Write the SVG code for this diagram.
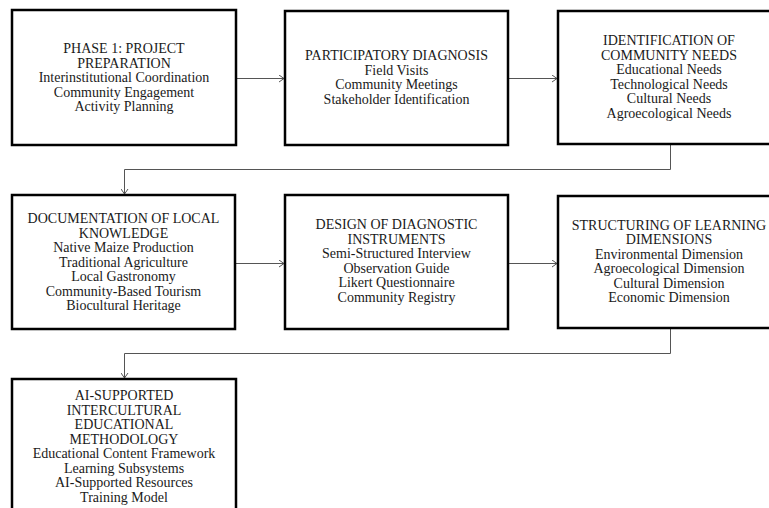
<svg xmlns="http://www.w3.org/2000/svg" width="769" height="508" viewBox="0 0 769 508">
<defs>
<style>
.box{fill:#fff;stroke:#000;stroke-width:2.5}
.t{font-family:"Liberation Serif","Times New Roman",serif;font-size:14px;fill:#1a1a1a;text-anchor:middle}
.c{fill:none;stroke:#555;stroke-width:1}
</style>
<marker id="ah" markerWidth="8" markerHeight="8" refX="6" refY="4" orient="auto" markerUnits="userSpaceOnUse">
<path d="M1,0.5 L6,4 L1,7.5" fill="none" stroke="#555" stroke-width="1"/>
</marker>
</defs>
<rect width="769" height="508" fill="#fff"/>
<g id="connectors">
<path class="c" d="M236,78.5 H284" marker-end="url(#ah)"/>
<path class="c" d="M508,78.5 H557" marker-end="url(#ah)"/>
<path class="c" d="M670.5,145 V169.5 H124.5 V194" marker-end="url(#ah)"/>
<path class="c" d="M235,263.5 H284" marker-end="url(#ah)"/>
<path class="c" d="M508,263.5 H557" marker-end="url(#ah)"/>
<path class="c" d="M670.5,329 V353.5 H124.5 V378" marker-end="url(#ah)"/>
</g>
<g id="node1">
<rect class="box" x="12" y="10" width="224" height="135"/>
<text class="t" x="124" y="53">PHASE 1: PROJECT</text>
<text class="t" x="124" y="67.5">PREPARATION</text>
<text class="t" x="124" y="82">Interinstitutional Coordination</text>
<text class="t" x="124" y="96.5">Community Engagement</text>
<text class="t" x="124" y="111">Activity Planning</text>
</g>
<g id="node2">
<rect class="box" x="285" y="11" width="223" height="134"/>
<text class="t" x="396.5" y="60">PARTICIPATORY DIAGNOSIS</text>
<text class="t" x="396.5" y="74.5">Field Visits</text>
<text class="t" x="396.5" y="89">Community Meetings</text>
<text class="t" x="396.5" y="103.5">Stakeholder Identification</text>
</g>
<g id="node3">
<rect class="box" x="558" y="11" width="222" height="133"/>
<text class="t" x="669" y="45">IDENTIFICATION OF</text>
<text class="t" x="669" y="59.5">COMMUNITY NEEDS</text>
<text class="t" x="669" y="74">Educational Needs</text>
<text class="t" x="669" y="88.5">Technological Needs</text>
<text class="t" x="669" y="103">Cultural Needs</text>
<text class="t" x="669" y="117.5">Agroecological Needs</text>
</g>
<g id="node4">
<rect class="box" x="12" y="195" width="223" height="134"/>
<text class="t" x="123.5" y="223">DOCUMENTATION OF LOCAL</text>
<text class="t" x="123.5" y="237.5">KNOWLEDGE</text>
<text class="t" x="123.5" y="252">Native Maize Production</text>
<text class="t" x="123.5" y="266.5">Traditional Agriculture</text>
<text class="t" x="123.5" y="281">Local Gastronomy</text>
<text class="t" x="123.5" y="295.5">Community-Based Tourism</text>
<text class="t" x="123.5" y="310">Biocultural Heritage</text>
</g>
<g id="node5">
<rect class="box" x="285" y="195" width="223" height="134"/>
<text class="t" x="396.5" y="229">DESIGN OF DIAGNOSTIC</text>
<text class="t" x="396.5" y="243.5">INSTRUMENTS</text>
<text class="t" x="396.5" y="258">Semi-Structured Interview</text>
<text class="t" x="396.5" y="272.5">Observation Guide</text>
<text class="t" x="396.5" y="287">Likert Questionnaire</text>
<text class="t" x="396.5" y="301.5">Community Registry</text>
</g>
<g id="node6">
<rect class="box" x="558" y="196" width="222" height="132"/>
<text class="t" x="669" y="229.5">STRUCTURING OF LEARNING</text>
<text class="t" x="669" y="244">DIMENSIONS</text>
<text class="t" x="669" y="258.5">Environmental Dimension</text>
<text class="t" x="669" y="273">Agroecological Dimension</text>
<text class="t" x="669" y="287.5">Cultural Dimension</text>
<text class="t" x="669" y="302">Economic Dimension</text>
</g>
<g id="node7">
<rect class="box" x="12" y="379" width="224" height="140"/>
<text class="t" x="124" y="400">AI-SUPPORTED</text>
<text class="t" x="124" y="414.5">INTERCULTURAL</text>
<text class="t" x="124" y="429">EDUCATIONAL</text>
<text class="t" x="124" y="443.5">METHODOLOGY</text>
<text class="t" x="124" y="458">Educational Content Framework</text>
<text class="t" x="124" y="472.5">Learning Subsystems</text>
<text class="t" x="124" y="487">AI-Supported Resources</text>
<text class="t" x="124" y="501.5">Training Model</text>
</g>
</svg>
